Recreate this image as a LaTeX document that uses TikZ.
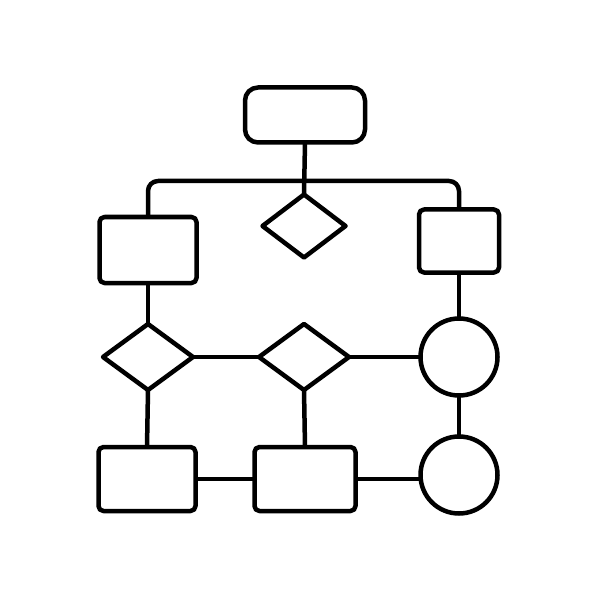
\documentclass[tikz,border=0pt]{standalone}
\usepackage{amsmath,amsfonts,amsthm, pgf, tikz}
\usetikzlibrary{arrows, shapes.geometric}
\usepackage{color}

\begin{document}
\begin{tikzpicture}[
            x = 0.2mm, y = -0.2mm, % one unit is one pixel of the icon
            line width = 0.9mm, % thick outline
            line join = round
        ]

        \tikzstyle{box}=[
            draw = black,
            rectangle,
            rounded corners = 1mm,
            inner sep = 0pt,
            outer sep = 0pt
        ]
        \tikzstyle{choice}=[
            draw = black,
            diamond,
            inner sep = 0pt,
            outer sep = 0pt
        ]
        \tikzstyle{ring}=[
            draw = black,
            circle,
            inner sep = 0pt,
            outer sep = 0pt,
            minimum size = 15.4mm
        ]

        \useasboundingbox (0,0) rectangle (600,600);

        \node[box, rounded corners = 2.6mm, minimum width = 24mm, minimum height = 11mm] (start) at (305,115) {};
        \node[box, minimum width = 19.4mm, minimum height = 13.2mm] (left) at (148,250) {};
        \node[choice, minimum width = 16.6mm, minimum height = 12.6mm] (top) at (304,226) {};
        \node[box, minimum width = 16mm, minimum height = 12.6mm] (right) at (459,241) {};

        \node[choice, minimum width = 18mm, minimum height = 13.2mm] (a) at (148,357) {};
        \node[choice, minimum width = 18mm, minimum height = 13.2mm] (b) at (304,357) {};
        \node[ring] (c) at (459,357) {};

        \node[box, minimum width = 19.4mm, minimum height = 12.8mm] (d) at (147,479) {};
        \node[box, minimum width = 20.2mm, minimum height = 12.8mm] (e) at (305,479) {};
        \node[ring] (f) at (459,475) {};

        \coordinate (bar) at (305,181);

	\draw (start.south) -- (top.north);
	\draw[rounded corners = 2mm] (left.north) |- (bar) -| (right.north);

	\draw (left.south) -- (a.north);
	\draw (a.east) -- (b.west);
	\draw (b.east) -- (c.west);
	\draw (right.south) -- (c.north);
	\draw (c.south) -- (f.north);

	\draw (a.south) -- (d.north);
	\draw (b.south) -- (e.north);
	\draw (d.east) -- (e.west);
	\draw (e.east) -- (e.east -| f.west);
    \end{tikzpicture}
\end{document}
